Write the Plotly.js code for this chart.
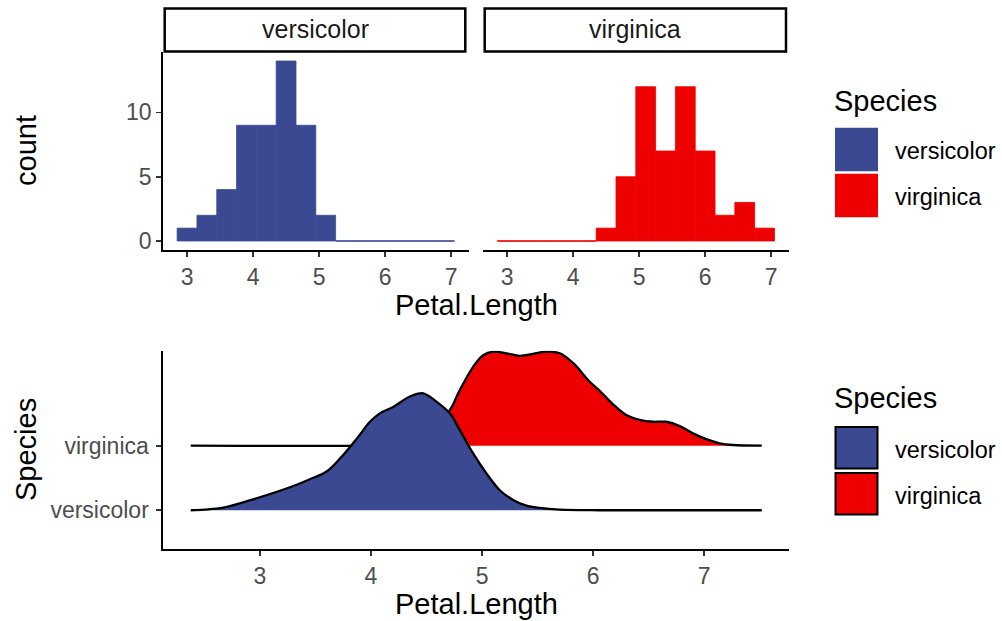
<!DOCTYPE html>
<html><head><meta charset="utf-8">
<script src="https://cdn.plot.ly/plotly-3.0.1.min.js"></script>
<style>html,body{margin:0;padding:0;background:#fff}#chart{width:1002px;height:621px}</style>
</head><body><div id="chart"></div>
<script>
// ---- data ----
const species = ['versicolor', 'virginica'];
const speciesColors = ['#3B4992', '#EE0000'];
const binCenters = [3.0, 3.3, 3.6, 3.9, 4.2, 4.5, 4.8, 5.1, 5.4, 5.7, 6.0, 6.3, 6.6, 6.9];
const countsVersicolor = [1, 2, 4, 9, 9, 14, 9, 2, 0, 0, 0, 0, 0, 0];
const countsVirginica  = [0, 0, 0, 0, 0, 1, 5, 12, 7, 12, 7, 2, 3, 1];
const densXVersicolor = [2.376, 2.5, 2.67, 2.97, 3.27, 3.45, 3.6, 3.72, 3.84, 3.90, 3.99, 4.08, 4.20, 4.35, 4.47, 4.59, 4.71, 4.80, 4.92, 5.04, 5.16, 5.28, 5.40, 5.52, 5.70, 6.06, 7.52];
const densHVersicolor = [0, 0.01, 0.04, 0.186, 0.356, 0.48, 0.60, 0.80, 1.04, 1.17, 1.37, 1.50, 1.60, 1.76, 1.81, 1.68, 1.50, 1.24, 0.88, 0.57, 0.31, 0.16, 0.07, 0.035, 0.01, 0, 0];
const densXVirginica = [2.376, 3.90, 4.08, 4.26, 4.44, 4.58, 4.71, 4.80, 4.92, 5.01, 5.10, 5.22, 5.34, 5.46, 5.58, 5.70, 5.82, 5.97, 6.06, 6.18, 6.30, 6.42, 6.54, 6.66, 6.78, 6.90, 7.02, 7.14, 7.26, 7.52];
const densHVirginica = [0, 0, 0.01, 0.04, 0.14, 0.32, 0.55, 0.86, 1.22, 1.40, 1.455, 1.43, 1.39, 1.42, 1.455, 1.43, 1.28, 0.99, 0.85, 0.64, 0.475, 0.40, 0.37, 0.37, 0.305, 0.19, 0.10, 0.037, 0.01, 0];
const xTicks = [3, 4, 5, 6, 7];
const countTicks = [0, 5, 10];
const binWidth = 0.3;

// ---- helpers ----
const W = 1002, H = 621;
const px = v => v / W;
const py = v => 1 - v / H;
const FONT = 'Liberation Sans, Arial, Helvetica, sans-serif';
const TICKGRAY = '#4D4D4D';

function zeroBins(counts) {
  const xs = [], ys = [];
  counts.forEach((c, i) => {
    if (c === 0) {
      xs.push(binCenters[i] - binWidth / 2, binCenters[i] + binWidth / 2, null);
      ys.push(0, 0, null);
    }
  });
  return {xs, ys};
}

const traces = [];
const histCounts = [countsVersicolor, countsVirginica];
histCounts.forEach((counts, i) => {
  const xa = i === 0 ? 'x' : 'x2', ya = i === 0 ? 'y' : 'y2';
  const z = zeroBins(counts);
  traces.push({type: 'scatter', mode: 'lines', x: z.xs, y: z.ys, xaxis: xa, yaxis: ya,
    line: {color: speciesColors[i], width: 1}, hoverinfo: 'skip', connectgaps: false});
  traces.push({type: 'bar', x: binCenters, y: counts, width: binWidth, xaxis: xa, yaxis: ya,
    marker: {color: speciesColors[i], line: {width: 0.8, color: speciesColors[i]}}, name: species[i]});
});

// ridgelines: draw upper (virginica) first, then versicolor on top
const ridges = [
  {xs: densXVirginica, hs: densHVirginica, idx: 1},
  {xs: densXVersicolor, hs: densHVersicolor, idx: 0}
];
ridges.forEach(r => {
  const base = r.idx + 1;
  traces.push({type: 'scatter', mode: 'lines', x: r.xs, y: r.xs.map(() => base),
    xaxis: 'x3', yaxis: 'y3', line: {width: 0, color: 'rgba(0,0,0,0)'}, hoverinfo: 'skip'});
  traces.push({type: 'scatter', mode: 'lines', x: r.xs, y: r.hs.map(h => h + base),
    xaxis: 'x3', yaxis: 'y3', fill: 'tonexty', fillcolor: speciesColors[r.idx],
    line: {color: '#000', width: 2.3, shape: 'spline', smoothing: 1}, name: species[r.idx]});
});

const axisCommon = {
  showline: true, linecolor: '#000', linewidth: 1.9, ticks: 'outside', ticklen: 5,
  tickwidth: 1.7, tickcolor: '#333', showgrid: false, zeroline: false,
  tickfont: {family: FONT, size: 23, color: TICKGRAY}, fixedrange: true
};

const layout = {
  width: W, height: H, autosize: false,
  margin: {l: 0, r: 0, t: 0, b: 0, pad: 0},
  paper_bgcolor: '#fff', plot_bgcolor: 'rgba(0,0,0,0)',
  showlegend: false, font: {family: FONT},
  xaxis: Object.assign({}, axisCommon, {domain: [px(163), px(469)], range: [2.636, 7.27], anchor: 'y', tickvals: xTicks}),
  yaxis: Object.assign({}, axisCommon, {domain: [py(250), py(52)], range: [-0.7, 14.7], anchor: 'x', tickvals: countTicks}),
  xaxis2: Object.assign({}, axisCommon, {domain: [px(483), px(789)], range: [2.636, 7.27], anchor: 'y2', tickvals: xTicks}),
  yaxis2: {domain: [py(250), py(52)], range: [-0.7, 14.7], anchor: 'x2', showline: false, showticklabels: false,
    ticks: '', showgrid: false, zeroline: false, fixedrange: true},
  xaxis3: Object.assign({}, axisCommon, {domain: [px(163.3), px(789.3)], range: [2.129, 7.768], anchor: 'y3', tickvals: xTicks}),
  yaxis3: Object.assign({}, axisCommon, {domain: [py(549), py(350.7)], range: [0.4, 3.47], anchor: 'x3',
    tickvals: species.map((s, i) => i + 1), ticktext: species, ticklabelstandoff: 3}),
  shapes: [],
  annotations: []
};

// facet strips
const strips = [[164.7, 465.3], [484.7, 786.0]];
strips.forEach((s, i) => {
  layout.shapes.push({type: 'rect', xref: 'paper', yref: 'paper', x0: px(s[0]), x1: px(s[1]), y0: py(51.5), y1: py(8.5),
    line: {color: '#000', width: 2.5}, fillcolor: '#fff', layer: 'above'});
  layout.annotations.push({xref: 'paper', yref: 'paper', x: px((s[0] + s[1]) / 2), y: py(29), text: species[i],
    showarrow: false, xanchor: 'center', yanchor: 'middle', font: {family: FONT, size: 25, color: '#1A1A1A'}});
});

// axis titles
const titleFont = {family: FONT, size: 29, color: '#000'};
layout.annotations.push({xref: 'paper', yref: 'paper', x: px(476), y: py(305), text: 'Petal.Length', showarrow: false,
  xanchor: 'center', yanchor: 'middle', font: titleFont});
layout.annotations.push({xref: 'paper', yref: 'paper', x: px(476), y: py(604), text: 'Petal.Length', showarrow: false,
  xanchor: 'center', yanchor: 'middle', font: titleFont});
layout.annotations.push({xref: 'paper', yref: 'paper', x: px(26), y: py(151), text: 'count', showarrow: false, textangle: -90,
  xanchor: 'center', yanchor: 'middle', font: titleFont});
layout.annotations.push({xref: 'paper', yref: 'paper', x: px(26), y: py(450), text: 'Species', showarrow: false, textangle: -90,
  xanchor: 'center', yanchor: 'middle', font: titleFont});

// legends
const legends = [
  {titleY: 100.5, keyTop: 127.7, border: false},
  {titleY: 397.5, keyTop: 426.0, border: true}
];
const keySize = 43.5;
legends.forEach(lg => {
  layout.annotations.push({xref: 'paper', yref: 'paper', x: px(832), y: py(lg.titleY), text: 'Species', showarrow: false,
    xanchor: 'left', yanchor: 'middle', font: titleFont});
  species.forEach((s, i) => {
    const top = lg.keyTop + i * (keySize + 2.5);
    layout.shapes.push({type: 'rect', xref: 'paper', yref: 'paper',
      x0: px(lg.border ? 835.5 : 835), x1: px(lg.border ? 877.5 : 878),
      y0: py(top + keySize - (lg.border ? 1 : 0)), y1: py(top + (lg.border ? 1 : 0)),
      fillcolor: speciesColors[i], line: lg.border ? {color: '#000', width: 2} : {width: 0}});
    layout.annotations.push({xref: 'paper', yref: 'paper', x: px(893), y: py(top + keySize / 2 + 2), text: s, showarrow: false,
      xanchor: 'left', yanchor: 'middle', font: {family: FONT, size: 23.5, color: '#000'}});
  });
});

Plotly.newPlot('chart', traces, layout, {displayModeBar: false, staticPlot: true});
</script>
</body></html>
